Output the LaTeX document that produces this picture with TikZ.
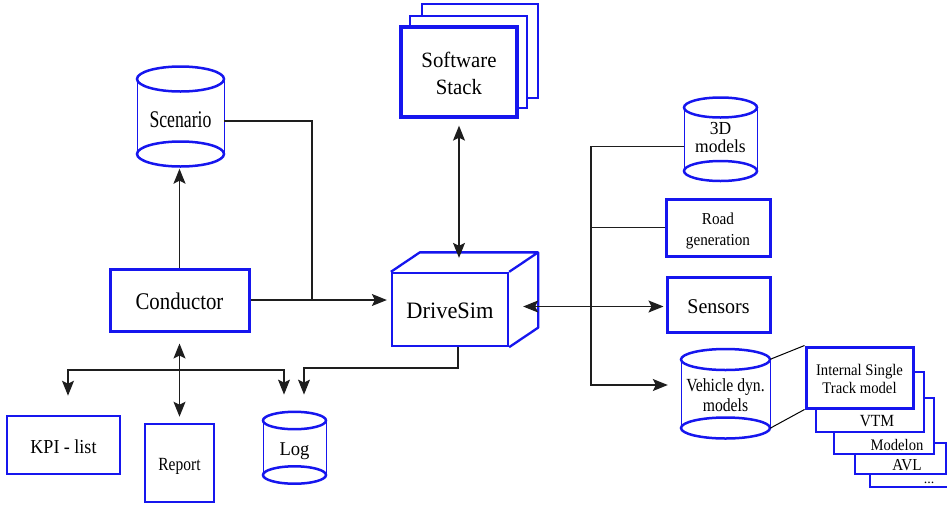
\documentclass[tikz,border=0pt]{standalone}
\usepackage{fontspec}
\usepackage{graphicx}
\setmainfont{Liberation Serif}
\usetikzlibrary{arrows.meta}

\definecolor{dsblue}{RGB}{22,22,238}
\definecolor{wire}{RGB}{30,30,30}

% text block, set a little lower than its box: size, line skip, vertical stretch, lines
\newcommand\vtext[4]{\raisebox{-3.5pt}[\height][\depth]{\scalebox{1}[#3]{\fontsize{#1}{#2}\selectfont\begin{tabular}{@{}c@{}}#4\end{tabular}}}}
\newcommand\lowered[2]{\raisebox{#1}[\height][\depth]{#2}}

% rectangle node from corner coordinates: style, name, x1, y1, x2, y2, text
\newcommand\boxat[7]{%
  \node[#1, minimum width={#5-#3}, minimum height={#6-#4}] (#2) at ({(#3+#5)/2},{(#4+#6)/2}) {#7};}

% cylinder store: name, cx, top rim y, bottom rim y, rx, ry, text
\newcommand\store[7]{%
  \draw[cylside] ({#2-#5},#3) -- ({#2-#5},#4) ({#2+#5},#3) -- ({#2+#5},#4);
  \draw[cylrim] (#2,#3) ellipse [x radius=#5, y radius=#6];
  \draw[cylrim] (#2,#4) ellipse [x radius=#5, y radius=#6];
  \node[inner sep=0, minimum width={2*#5}, minimum height={#4-#3+2*#6}] (#1) at (#2,{(#3+#4)/2}) {#7};}

\tikzset{
  thickbox/.style={draw=dsblue, line width=3pt, fill=white, inner sep=0},
  midbox/.style={draw=dsblue, line width=2.3pt, fill=white, inner sep=0},
  cylside/.style={draw=dsblue, line width=1pt},
  cylrim/.style={draw=dsblue, line width=2.5pt},
  tip/.tip={Stealth[length=15pt, width=12pt, inset=3pt]},
  conn/.style={draw=wire, line width=1.2pt},
  arr/.style={conn, -tip},
  dbl/.style={conn, tip-tip},
  tieline/.style={draw=black, line width=1pt},
}

\begin{document}
\begin{tikzpicture}[x=1pt, y=-1pt]
\useasboundingbox (0,0) rectangle (947,504);
\clip (0,0) rectangle (947,504);

% software stack (three sheets)
\boxat{midbox}{swc}{422}{4}{538}{98}{}
\boxat{midbox}{swb}{410}{16}{527}{108}{}
\boxat{thickbox, line width=3.3pt}{sw}{401}{27}{517}{117}{\vtext{20.8}{26}{1.05}{Software\\Stack}}

% scenario store
\store{scen}{180.5}{79}{154}{43.5}{12.5}{\lowered{-2.5pt}{\vtext{17.7}{20}{1.35}{Scenario}}}

% conductor
\boxat{thickbox}{cond}{110}{269}{249}{331}{\vtext{20.8}{24}{1.15}{Conductor}}

% DriveSim block with top and side faces
\boxat{midbox}{ds}{392}{273}{508}{346}{\vtext{22.4}{26}{1.05}{DriveSim}}
\draw[draw=dsblue, line width=2.3pt, line join=round]
  (ds.north west) -- ([shift={(29pt,19.5pt)}]ds.north west)
  -- ([shift={(29pt,19.5pt)}]ds.north east)
  -- ([shift={(29pt,19.5pt)}]ds.south east) -- (ds.south east)
  (ds.north east) -- ([shift={(29pt,19.5pt)}]ds.north east);

% right-hand column
\store{m3d}{720.5}{107.5}{171}{36.5}{10}{\lowered{2.5pt}{\vtext{17.5}{16}{1.05}{3D\\models}}}
\boxat{thickbox}{road}{666}{199}{770}{256}{\vtext{15.2}{19}{1.1}{Road\\generation}}
\boxat{thickbox}{sens}{667}{277}{770}{332}{\vtext{20}{24}{1.05}{Sensors}}
\store{veh}{725.5}{359.5}{428}{44.5}{10.5}{\vtext{15.7}{17}{1.18}{Vehicle dyn.\\models}}

% vehicle dynamics model variants
\boxat{midbox}{vdots}{870}{455}{975}{487}{}
\boxat{midbox}{avl}{855}{443}{946}{474}{}
\boxat{midbox}{mdl}{834}{398}{934}{454}{}
\boxat{midbox}{vtm}{816}{372}{924}{432}{}
\boxat{thickbox}{ist}{806}{347}{913}{408}{\vtext{14.7}{16}{1.1}{Internal Single\\Track model}}
\node[anchor=base, font=\fontsize{15.5}{18}\selectfont] at (877,426) {\scalebox{1}[1.1]{VTM}};
\node[anchor=base, font=\fontsize{14.6}{18}\selectfont] at (897,450) {\scalebox{1}[1.1]{Modelon}};
\node[anchor=base, font=\fontsize{15.2}{18}\selectfont] at (907,470) {\scalebox{1}[1.1]{AVL}};
\node[anchor=base, font=\fontsize{14}{18}\selectfont] at (929,483) {...};

% outputs
\boxat{thickbox, line width=2.6pt}{kpi}{7}{416}{120}{474}{\vtext{18}{22}{1.1}{KPI - list}}
\boxat{thickbox, line width=2.6pt}{rep}{145}{424}{214}{502}{\vtext{15.5}{18}{1.2}{Report}}
\store{log}{294.5}{420.5}{475}{31.5}{8.7}{\vtext{18.6}{22}{1.05}{Log}}

% connectors
\coordinate (jsc) at (312,300);
\draw[conn] ([yshift=-4.5pt]scen.east) -| (jsc);
\draw[arr, shorten >=4pt] (cond.east) -- (cond.east -| ds.west);
\draw[arr, shorten >=2pt] (cond.north) -- (cond.north |- scen.south);
\draw[dbl, shorten <=7pt, shorten >=14pt] (sw.south) -- (sw.south |- ds.north);
\draw[dbl, shorten <=2pt, shorten >=14pt] ([yshift=-2pt]sens.west) -- ([yshift=-2pt]sens.west -| ds.east);

\coordinate (bus) at (591,385);
\draw[arr, shorten >=13pt] ([yshift=-7pt]m3d.west) -| (bus) -- (bus -| veh.west);
\draw[conn] (road.west) -- (road.west -| bus);

\coordinate (lk) at (304,368);
\draw[arr, shorten >=17pt] ([xshift=8pt]ds.south) |- (lk) -- (lk |- log.north);

\draw[dbl, shorten <=11pt, shorten >=6pt] (cond.south) -- (rep.north);
\coordinate (jr) at (179.5,370);
\draw[arr, shorten >=19pt] (jr) -| ([xshift=4.5pt]kpi.north);
\draw[arr, shorten >=17pt] (jr) -| ([xshift=-10.5pt]log.north);

\draw[tieline] ([yshift=-10.5pt]veh.north east) -- (ist.north west);
\draw[tieline] ([yshift=10.5pt]veh.south east) -- (ist.south west);
\end{tikzpicture}
\end{document}
